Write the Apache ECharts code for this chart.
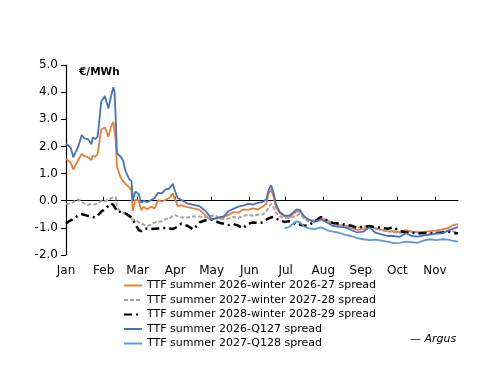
<!DOCTYPE html>
<html><head><meta charset="utf-8">
<script src="https://cdn.jsdelivr.net/npm/echarts@6/dist/echarts.min.js"></script>
<style>html,body{margin:0;padding:0;background:#fff}#c{width:500px;height:386px}</style>
</head><body><div id="c"></div>
<script>
// Day-of-year positions of month starts and their tick labels
const monthStarts = [0,31,59,90,120,151,181,212,243,273,304];
const monthLabels = ['Jan','Feb','Mar','Apr','May','Jun','Jul','Aug','Sep','Oct','Nov'];
const seriesNames = [
  'TTF summer 2026-winter 2026-27 spread',
  'TTF summer 2027-winter 2027-28 spread',
  'TTF summer 2028-winter 2028-29 spread',
  'TTF summer 2026-Q127 spread',
  'TTF summer 2027-Q128 spread'
];
// sample days (day of year)
const days = [0,2,4,6,8,10,13,15,18,21,
  22,24,26,27,29,32,35,37,39,40,
  41,42,45,47,49,52,54,55,57,60,
  62,64,67,70,73,76,79,82,85,88,
  89,90,92,95,100,105,110,115,118,120,
  123,127,130,134,138,142,146,150,154,158,
  162,165,167,169,171,173,176,180,184,188,
  190,193,196,200,205,210,215,220,225,230,
  235,240,245,250,255,260,265,270,275,280,
  285,290,295,300,305,310,315,318,321,323];
// summer 2026 - winter 2026-27
const o26 = [1.54,1.47,1.40,1.15,1.32,1.50,1.72,1.65,1.60,1.50,
  1.65,1.62,1.72,2.00,2.62,2.70,2.36,2.73,2.90,2.85,
  2.20,1.25,0.86,0.72,0.62,0.50,0.38,-0.38,0.03,0.00,
  -0.34,-0.22,-0.32,-0.22,-0.28,0.02,-0.03,0.03,0.10,0.27,
  0.33,0.05,-0.20,-0.16,-0.24,-0.28,-0.34,-0.55,-0.68,-0.70,
  -0.66,-0.65,-0.60,-0.52,-0.42,-0.44,-0.32,-0.34,-0.28,-0.32,
  -0.22,-0.12,0.28,0.41,0.15,-0.25,-0.45,-0.58,-0.62,-0.45,
  -0.40,-0.40,-0.60,-0.70,-0.74,-0.62,-0.72,-0.83,-0.90,-0.92,
  -1.00,-1.07,-1.05,-0.92,-1.02,-1.08,-1.13,-1.12,-1.17,-1.08,
  -1.14,-1.16,-1.15,-1.12,-1.10,-1.06,-1.00,-0.92,-0.88,-0.86];
// summer 2027 - winter 2027-28
const g27 = [-0.12,-0.12,-0.10,-0.05,0.00,0.05,-0.04,-0.10,-0.15,-0.12,
  -0.12,-0.14,-0.10,-0.05,0.00,-0.02,0.05,0.08,0.15,0.20,
  0.12,-0.25,-0.40,-0.45,-0.45,-0.58,-0.68,-0.70,-0.70,-0.80,
  -0.82,-0.88,-0.92,-0.88,-0.80,-0.78,-0.76,-0.68,-0.66,-0.55,
  -0.53,-0.53,-0.57,-0.62,-0.62,-0.58,-0.58,-0.60,-0.58,-0.56,
  -0.53,-0.68,-0.66,-0.66,-0.60,-0.64,-0.56,-0.52,-0.55,-0.52,
  -0.50,-0.42,-0.22,-0.12,-0.25,-0.44,-0.58,-0.64,-0.63,-0.58,
  -0.55,-0.48,-0.65,-0.76,-0.77,-0.71,-0.76,-0.85,-0.90,-0.93,
  -0.96,-0.98,-0.95,-0.93,-1.02,-1.07,-1.12,-1.17,-1.18,-1.16,
  -1.14,-1.20,-1.22,-1.22,-1.20,-1.14,-1.10,-1.12,-1.14,-1.14];
// summer 2028 - winter 2028-29
const k28 = [-0.85,-0.77,-0.72,-0.68,-0.60,-0.55,-0.50,-0.52,-0.56,-0.58,
  -0.60,-0.62,-0.55,-0.48,-0.40,-0.32,-0.18,-0.10,-0.16,-0.22,
  -0.30,-0.40,-0.42,-0.45,-0.47,-0.55,-0.62,-0.68,-0.85,-1.08,
  -1.12,-1.06,-1.02,-1.04,-1.03,-1.02,-1.02,-1.00,-1.02,-1.04,
  -1.00,-1.00,-0.95,-0.85,-0.92,-1.06,-0.80,-0.72,-0.70,-0.70,
  -0.75,-0.82,-0.85,-0.90,-0.86,-0.92,-1.02,-0.85,-0.80,-0.82,
  -0.80,-0.70,-0.65,-0.62,-0.60,-0.66,-0.72,-0.78,-0.76,-0.82,
  -0.90,-0.88,-0.92,-0.90,-0.76,-0.60,-0.72,-0.82,-0.84,-0.88,
  -0.92,-1.00,-0.96,-0.94,-0.98,-0.99,-1.03,-0.98,-1.12,-1.16,
  -1.18,-1.20,-1.19,-1.20,-1.19,-1.17,-1.14,-1.17,-1.20,-1.20];
// summer 2026 - Q127
const b26 = [2.09,2.04,1.93,1.60,1.80,1.98,2.42,2.30,2.27,2.08,
  2.33,2.27,2.36,2.75,3.65,3.86,3.40,3.83,4.18,4.01,
  3.00,1.75,1.62,1.48,1.10,0.80,0.72,0.00,0.33,0.25,
  -0.08,0.00,-0.05,0.02,0.10,0.29,0.27,0.42,0.45,0.62,
  0.60,0.33,0.10,0.03,-0.10,-0.15,-0.20,-0.38,-0.55,-0.70,
  -0.65,-0.60,-0.58,-0.38,-0.30,-0.22,-0.18,-0.12,-0.14,-0.08,
  -0.05,0.05,0.40,0.57,0.30,-0.12,-0.40,-0.55,-0.55,-0.40,
  -0.32,-0.36,-0.56,-0.71,-0.78,-0.68,-0.80,-0.93,-0.96,-0.98,
  -1.08,-1.17,-1.14,-0.98,-1.18,-1.24,-1.30,-1.30,-1.33,-1.20,
  -1.30,-1.32,-1.28,-1.25,-1.20,-1.20,-1.10,-1.05,-1.00,-0.96];
// summer 2027 - Q128 (starts at day 180)
const q28Start = 180;
const q28 = [-1.02,-0.96,-0.82,
  -0.76,-0.80,-0.95,-1.02,-1.05,-0.98,-1.08,-1.14,-1.18,-1.26,
  -1.30,-1.38,-1.42,-1.45,-1.43,-1.47,-1.51,-1.56,-1.55,-1.51,
  -1.53,-1.55,-1.46,-1.42,-1.45,-1.42,-1.43,-1.47,-1.49,-1.51];

const pairs = (vals, startIdx) => vals.map((v, i) => [days[i + startIdx], v]);
const F = 'DejaVu Sans';
const chart = echarts.init(document.getElementById('c'));
const lineSeries = (name, data, color, width, type) => ({
  name, type: 'line', data, showSymbol: false, symbol: 'circle',
  xAxisIndex: 0, yAxisIndex: 0,
  lineStyle: { color, width, type }, itemStyle: { color }
});
chart.setOption({
  animation: false,
  backgroundColor: '#fff',
  textStyle: { fontFamily: F },
  grid: { left: 66, top: 65, right: 42, bottom: 131 },
  xAxis: [
    { type: 'value', position: 'bottom', min: 0, max: 323,
      axisLine: { show: false, onZero: false }, axisTick: { show: false }, splitLine: { show: false },
      axisLabel: { customValues: monthStarts, formatter: v => monthLabels[monthStarts.indexOf(v)],
        color: '#000', fontSize: 12, margin: 10, fontFamily: F } },
    { type: 'value', position: 'bottom', min: 0, max: 323,
      axisLine: { show: true, onZero: true, lineStyle: { color: '#000', width: 1.2 } },
      axisTick: { show: true, inside: true, length: 4, customValues: monthStarts, lineStyle: { color: '#000' } },
      axisLabel: { show: false }, splitLine: { show: false } }
  ],
  yAxis: {
    type: 'value', min: -2, max: 5, interval: 1,
    axisLine: { show: true, onZero: false, lineStyle: { color: '#000', width: 1.2 } },
    axisTick: { show: true, length: 5, lineStyle: { color: '#000' } },
    splitLine: { show: false },
    axisLabel: { formatter: v => v.toFixed(1), color: '#000', fontSize: 12, margin: 8, fontFamily: F }
  },
  legend: {
    data: seriesNames, orient: 'vertical', left: 123, top: 280, padding: 0,
    itemWidth: 18, itemHeight: 11, itemGap: 3.5,
    itemStyle: { opacity: 0 },
    textStyle: { fontSize: 11, color: '#000', fontFamily: F }
  },
  graphic: [
    { type: 'text', left: 79, top: 67, style: { text: '€/MWh', font: 'bold 10.5px "DejaVu Sans"', fill: '#000' } },
    { type: 'text', left: 410, top: 334, style: { text: '— Argus', font: 'italic 11px "DejaVu Sans"', fill: '#000' } }
  ],
  series: [
    lineSeries(seriesNames[0], pairs(o26, 0), '#ED7D31', 1.8, 'solid'),
    lineSeries(seriesNames[1], pairs(g27, 0), '#A5A5A5', 2, [4, 2]),
    lineSeries(seriesNames[2], pairs(k28, 0), '#000000', 2.5, [8, 4, 2, 4]),
    lineSeries(seriesNames[3], pairs(b26, 0), '#4472C4', 1.8, 'solid'),
    lineSeries(seriesNames[4], pairs(q28, days.indexOf(q28Start)), '#5B9BD5', 1.8, 'solid')
  ]
});
</script></body></html>
